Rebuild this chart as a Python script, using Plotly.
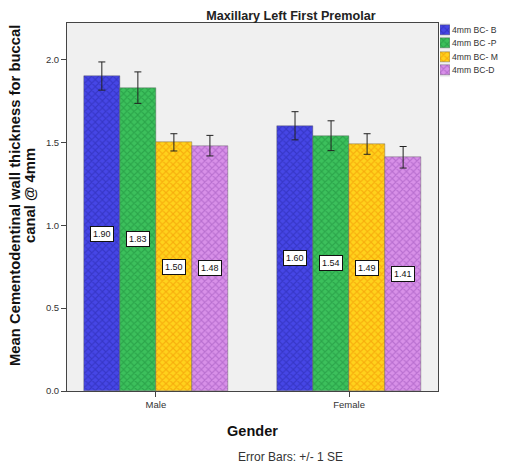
import plotly.graph_objects as go

genders = ["Male", "Female"]
series_names = ["4mm BC- B", "4mm BC -P", "4mm BC- M", "4mm BC-D"]
means = {
    "4mm BC- B": [1.90, 1.60],
    "4mm BC -P": [1.83, 1.54],
    "4mm BC- M": [1.50, 1.49],
    "4mm BC-D": [1.48, 1.41],
}
se = {
    "4mm BC- B": [0.085, 0.085],
    "4mm BC -P": [0.095, 0.09],
    "4mm BC- M": [0.052, 0.062],
    "4mm BC-D": [0.062, 0.065],
}
y_ticks = [0.0, 0.5, 1.0, 1.5, 2.0]
y_title_lines = ["Mean Cementodentinal wall thickness for buccal", "canal @ 4mm"]

base_colors = ["#4646e6", "#3cc05c", "#ffd21c", "#d890e8"]
hatch_colors = ["#2828a8", "#1c8a3a", "#f08a00", "#9a50b8"]

group_width = 0.746
n = len(series_names)
bw = group_width / n

main_dom = [0, 0.845]
leg_dom_x = [0.8497, 0.8725]
leg_dom_y = [0.853, 1.0]
chart_center = 0.51


def pattern(i):
    return dict(shape="x", fgcolor=hatch_colors[i], size=5,
                solidity=0.4, fillmode="overlay")


fig = go.Figure()
annotations = []
for i, name in enumerate(series_names):
    xs = [g + (i - (n - 1) / 2) * bw for g in range(len(genders))]
    fig.add_trace(go.Bar(
        x=xs, y=means[name], width=bw, name=name, showlegend=False,
        marker=dict(color=base_colors[i],
                    line=dict(color="#555555", width=0.4),
                    pattern=pattern(i)),
        error_y=dict(type="data", array=se[name], color="#222222",
                     thickness=1, width=3.5),
    ))
    for x, v in zip(xs, means[name]):
        annotations.append(dict(
            x=x, y=v / 2, xref="x", yref="y", text=f"{v:.2f}",
            showarrow=False, font=dict(family="Arial", size=9, color="#111"),
            bgcolor="white", bordercolor="#111", borderwidth=1, borderpad=2,
        ))
    # custom legend swatch
    fig.add_trace(go.Bar(
        x=[1], y=[i], base=0, width=0.75, orientation="h", showlegend=False,
        xaxis="x2", yaxis="y2", hoverinfo="skip",
        marker=dict(color=base_colors[i],
                    line=dict(color="#555555", width=0.4),
                    pattern=pattern(i)),
    ))
    annotations.append(dict(
        x=1, y=i, xref="x2", yref="y2", text=name, xanchor="left",
        xshift=0, showarrow=False,
        font=dict(family="Arial", size=8.6, color="#333"),
    ))

annotations.append(dict(
    x=chart_center, y=-0.179, xref="paper", yref="paper", yanchor="middle",
    text="Error Bars: +/- 1 SE", showarrow=False,
    font=dict(family="Arial", size=12, color="#333"),
))
for k, line in enumerate(y_title_lines):
    annotations.append(dict(
        x=0, y=0.53, xref="paper", yref="paper", xanchor="center", yanchor="middle",
        xshift=-52 + 15 * k, textangle=-90, text=f"<b>{line}</b>", showarrow=False,
        font=dict(family="Arial", size=14.8, color="#111"),
    ))

fig.update_layout(
    width=498, height=460,
    margin=dict(l=59, r=0, t=15, b=77),
    paper_bgcolor="white", plot_bgcolor="#f0f0f0",
    font=dict(family="Arial", color="#222"),
    title=dict(text="<b>Maxillary Left First Premolar</b>", x=chart_center,
               xref="paper", xanchor="center",
               y=1, yref="paper", yanchor="bottom", pad=dict(b=3),
               font=dict(size=12.6, color="#222")),
    showlegend=False,
    bargap=0, barmode="overlay",
    annotations=annotations,
    xaxis=dict(domain=main_dom, range=[-0.46, 1.46], tickvals=[0, 1], ticktext=genders,
               showline=True, linecolor="#444", linewidth=1, mirror=True,
               ticks="outside", ticklen=5, tickcolor="#444",
               showgrid=False, zeroline=False, automargin=False,
               tickfont=dict(size=9.5, color="#333"),
               title=dict(text="<b>Gender</b>", font=dict(size=14.5, color="#111"), standoff=16)),
    yaxis=dict(range=[0, 2.22], tickvals=y_ticks,
               ticktext=[f"{t:.1f}" for t in y_ticks],
               showline=True, linecolor="#444", linewidth=1, mirror=True,
               ticks="outside", ticklen=5, tickcolor="#444",
               showgrid=False, zeroline=False, automargin=False,
               tickfont=dict(size=9.5, color="#333")),
    xaxis2=dict(domain=leg_dom_x, range=[0, 1], anchor="y2", visible=False,
                fixedrange=True),
    yaxis2=dict(domain=leg_dom_y, range=[3.5, -0.5], anchor="x2", visible=False,
                fixedrange=True),
)

fig.write_html("out.html")
